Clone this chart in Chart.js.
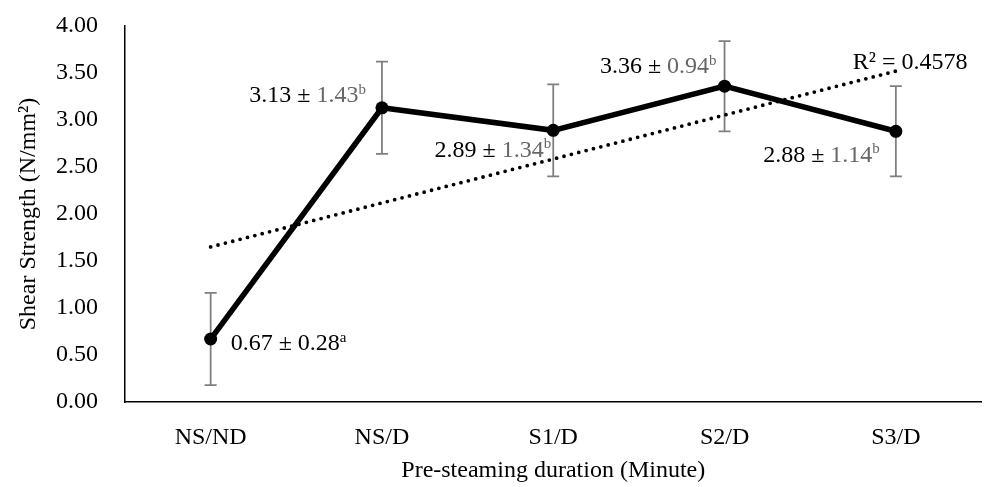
<!DOCTYPE html>
<html>
<head>
<meta charset="utf-8">
<script src="https://cdn.jsdelivr.net/npm/chart.js@4"></script>
<style>
  body { margin: 0; background: #fff; overflow: hidden; }
  #wrap { width: 988px; height: 487px; }
  canvas { display: block; }
</style>
</head>
<body>
<div id="wrap"><canvas id="shearChart"></canvas></div>
<script>
// data
const categories = ['NS/ND', 'NS/D', 'S1/D', 'S2/D', 'S3/D'];
const shearMeans = [0.67, 3.13, 2.89, 3.36, 2.88];
const shearSD = ['0.28', '1.43', '1.34', '0.94', '1.14'];
const groupLetters = ['a', 'b', 'b', 'b', 'b'];
const errorHalf = [0.49, 0.49, 0.49, 0.48, 0.48];
const trendValues = [1.65, null, null, null, 3.52];
const rSquaredText = 'R² = 0.4578';

const FONT = '"Liberation Serif", "Times New Roman", serif';
const GREY = '#666666';

// label placement relative to each point (px): dx, dy, align
const labelPos = [
  { dx: 20, dy: 5, align: 'left', allBlack: true },
  { dx: -16, dy: -12, align: 'right' },
  { dx: -2, dy: 20, align: 'right' },
  { dx: -8, dy: -19, align: 'right' },
  { dx: -16, dy: 24, align: 'right' }
];

const errorBars = {
  id: 'errorBars',
  beforeDatasetsDraw(chart) {
    const { ctx, scales: { x, y } } = chart;
    ctx.save();
    ctx.strokeStyle = '#7f7f7f';
    ctx.lineWidth = 1.8;
    shearMeans.forEach((m, i) => {
      const px = x.getPixelForValue(i);
      const top = y.getPixelForValue(m + errorHalf[i]);
      const bot = y.getPixelForValue(m - errorHalf[i]);
      ctx.beginPath();
      ctx.moveTo(px, top); ctx.lineTo(px, bot);
      ctx.moveTo(px - 6, top); ctx.lineTo(px + 6, top);
      ctx.moveTo(px - 6, bot); ctx.lineTo(px + 6, bot);
      ctx.stroke();
    });
    ctx.restore();
  }
};

const valueLabels = {
  id: 'valueLabels',
  afterDatasetsDraw(chart) {
    const { ctx, scales: { x, y } } = chart;
    ctx.save();
    ctx.textBaseline = 'middle';
    shearMeans.forEach((m, i) => {
      const p = labelPos[i];
      const px = x.getPixelForValue(i) + p.dx;
      const py = y.getPixelForValue(m) + p.dy;
      const parts = [
        { t: m.toFixed(2) + ' ± ', c: '#000', f: '24px ' + FONT, o: 0 },
        { t: shearSD[i], c: p.allBlack ? '#000' : GREY, f: '24px ' + FONT, o: 0 },
        { t: groupLetters[i], c: p.allBlack ? '#000' : GREY, f: '15px ' + FONT, o: -6 }
      ];
      let w = 0;
      parts.forEach(s => { ctx.font = s.f; s.w = ctx.measureText(s.t).width; w += s.w; });
      let cx = p.align === 'right' ? px - w : px;
      ctx.textAlign = 'left';
      parts.forEach(s => {
        ctx.font = s.f; ctx.fillStyle = s.c;
        ctx.fillText(s.t, cx, py + s.o);
        cx += s.w;
      });
    });
    // R² of the linear trend
    ctx.font = '24px ' + FONT;
    ctx.fillStyle = '#000';
    ctx.textAlign = 'left';
    ctx.fillText(rSquaredText, x.getPixelForValue(4) - 43, y.getPixelForValue(trendValues[4]) - 8);
    ctx.restore();
  }
};

// invisible tick marks give the label gap without adding scale padding
const hiddenGrid = len => ({ display: true, drawOnChartArea: false, drawTicks: true,
                             tickLength: len, color: 'rgba(0,0,0,0)' });

new Chart(document.getElementById('shearChart'), {
  type: 'line',
  data: {
    labels: categories,
    datasets: [{
      data: shearMeans,
      borderColor: '#000',
      backgroundColor: '#000',
      borderWidth: 5.5,
      pointRadius: 6.5,
      pointBackgroundColor: '#000',
      pointBorderWidth: 0,
      tension: 0,
      order: 1
    }, {
      data: trendValues,
      spanGaps: true,
      borderColor: '#000',
      borderWidth: 3.8,
      borderDash: [0, 7.6],
      borderCapStyle: 'round',
      pointRadius: 0,
      tension: 0,
      order: 2
    }]
  },
  options: {
    responsive: true,
    maintainAspectRatio: false,
    animation: false,
    layout: { padding: { left: 14, right: -3, top: 26, bottom: 0 } },
    plugins: { legend: { display: false }, tooltip: { enabled: false } },
    scales: {
      x: {
        offset: true,
        grid: hiddenGrid(18),
        border: { display: true, color: '#000', width: 1.5 },
        ticks: { color: '#000', font: { family: FONT, size: 24 }, padding: 3 },
        title: { display: true, text: 'Pre-steaming duration (Minute)', color: '#000',
                 font: { family: FONT, size: 24 }, padding: { top: 0, bottom: 2 } },
        afterFit(s) { s.height = 85; s.paddingLeft = 0; s.paddingRight = 0; }
      },
      y: {
        min: 0, max: 4,
        grid: hiddenGrid(24),
        border: { display: true, color: '#000', width: 1.5 },
        ticks: { stepSize: 0.5, color: '#000', font: { family: FONT, size: 24 }, padding: 3,
                 callback: v => Number(v).toFixed(2) },
        title: { display: true, text: 'Shear Strength (N/mm²)', color: '#000',
                 font: { family: FONT, size: 24 }, padding: { top: 0, bottom: 0 } },
        afterFit(s) { s.width = 111; }
      }
    }
  },
  plugins: [errorBars, valueLabels]
});
</script>
</body>
</html>
